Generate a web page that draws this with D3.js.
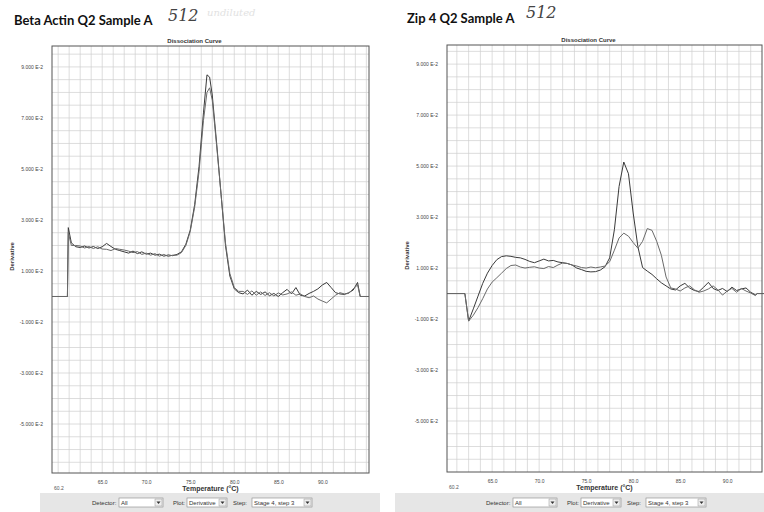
<!DOCTYPE html>
<meta charset="utf-8">
<script src="https://d3js.org/d3.v7.min.js"></script>
<style>
  body { margin: 0; background: #fff; }
  text { font-family: "Liberation Sans", Arial, sans-serif; fill: #333; }
</style>
<div id="chart"></div>
<script>
// tick labels shared by both panels
var yTickValues = [0.09, 0.07, 0.05, 0.03, 0.01, -0.01, -0.03, -0.05];
var yTickLabels = ["9.000 E-2", "7.000 E-2", "5.000 E-2", "3.000 E-2", "1.000 E-2", "-1.000 E-2", "-3.000 E-2", "-5.000 E-2"];
var xTickValues = [65, 70, 75, 80, 85, 90];
var xTickLabels = ["65.0", "70.0", "75.0", "80.0", "85.0", "90.0"];

// Beta Actin: temperature (C) and derivative of the two wells
var betaTemp = [59.3, 61.05, 61.15, 61.5, 62.0, 62.5, 63.0, 63.5, 64.0, 64.5, 65.0, 65.5, 66.0, 66.5, 67.0, 67.5,
  68.0, 68.5, 69.0, 69.5, 70.0, 70.5, 71.0, 71.5, 72.0, 72.5, 73.0, 73.5, 74.0, 74.5, 75.0, 75.5, 76.0, 76.5,
  76.9, 77.2, 77.5, 78.0, 78.5, 79.0, 79.5, 80.0, 80.5, 81.0, 81.5, 82.0, 82.5, 83.0, 83.5, 84.0, 84.5, 85.0,
  85.5, 86.0, 86.5, 87.0, 87.5, 88.0, 88.5, 89.0, 89.5, 90.0, 90.5, 91.0, 91.5, 92.0, 92.5, 93.0, 93.5, 94.0,
  94.3, 95.3];
var betaA = [0, 0, 0.0270, 0.0210, 0.0195, 0.0192, 0.0198, 0.0190, 0.0196, 0.0188, 0.0195, 0.0208, 0.0196, 0.0185, 0.0180, 0.0175,
  0.0170, 0.0178, 0.0168, 0.0175, 0.0166, 0.0170, 0.0162, 0.0166, 0.0158, 0.0163, 0.0160, 0.0165, 0.0175, 0.0205, 0.0260, 0.0360, 0.0510, 0.0720,
  0.0869, 0.0860, 0.0790, 0.0600, 0.0400, 0.0200, 0.0080, 0.0030, 0.0015, 0.0010, 0.0025, 0.0005, 0.0020, 0.0008, 0.0018, 0.0003, 0.0012, 0.0000,
  0.0015, 0.0028, 0.0010, 0.0035, 0.0005, 0.0002, 0.0012, 0.0020, 0.0030, 0.0045, 0.0055, 0.0035, 0.0015, 0.0010, 0.0008, 0.0015, 0.0025, 0.0055,
  0, 0];
var betaB = [0, 0, 0.0250, 0.0200, 0.0200, 0.0198, 0.0190, 0.0196, 0.0188, 0.0195, 0.0186, 0.0185, 0.0180, 0.0188, 0.0185, 0.0182,
  0.0178, 0.0172, 0.0176, 0.0165, 0.0170, 0.0162, 0.0168, 0.0158, 0.0165, 0.0157, 0.0162, 0.0162, 0.0172, 0.0200, 0.0255, 0.0350, 0.0490, 0.0690,
  0.0800, 0.0818, 0.0770, 0.0590, 0.0400, 0.0210, 0.0090, 0.0035, 0.0020, 0.0020, 0.0008, 0.0022, 0.0005, 0.0018, 0.0004, 0.0015, 0.0002, 0.0014,
  0.0006, 0.0010, 0.0018, 0.0005, 0.0010, 0.0000, -0.0005, 0.0002, -0.0010, -0.0018, -0.0025, -0.0010, 0.0005, 0.0015, 0.0010, 0.0012, 0.0030, 0.0045,
  0, 0];

// Zip 4
var zipTemp = [60.2, 62.1, 62.5, 63.0, 63.5, 64.0, 64.5, 65.0, 65.5, 66.0, 66.5, 67.0, 67.5, 68.0, 68.5, 69.0, 69.5,
  70.0, 70.5, 71.0, 71.5, 72.0, 72.5, 73.0, 73.5, 74.0, 74.5, 75.0, 75.5, 76.0, 76.5, 77.0, 77.5, 78.0, 78.5,
  79.0, 79.5, 80.0, 80.5, 81.0, 81.5, 82.0, 82.5, 83.0, 83.5, 84.0, 84.5, 85.0, 85.5, 86.0, 86.5, 87.0, 87.5,
  88.0, 88.5, 89.0, 89.5, 90.0, 90.5, 91.0, 91.5, 92.0, 92.5, 93.0, 93.2, 94.0];
var zipA = [0, 0, -0.0108, -0.0060, -0.0010, 0.0040, 0.0080, 0.0110, 0.0133, 0.0145, 0.0148, 0.0146, 0.0142, 0.0140, 0.0134, 0.0126, 0.0121,
  0.0128, 0.0135, 0.0128, 0.0130, 0.0124, 0.0121, 0.0118, 0.0112, 0.0100, 0.0094, 0.0087, 0.0085, 0.0086, 0.0092, 0.0105, 0.0140, 0.0250, 0.0420,
  0.0516, 0.0470, 0.0316, 0.0184, 0.0102, 0.0088, 0.0075, 0.0058, 0.0042, 0.0030, 0.0018, 0.0014, 0.0030, 0.0040, 0.0022, 0.0012, 0.0008, 0.0025,
  0.0044, 0.0020, 0.0012, 0.0020, 0.0008, 0.0025, 0.0012, 0.0018, 0.0022, 0.0005, -0.0005, 0, 0];
var zipB = [0, 0, -0.0108, -0.0085, -0.0055, -0.0020, 0.0018, 0.0045, 0.0062, 0.0080, 0.0098, 0.0110, 0.0112, 0.0104, 0.0100, 0.0103, 0.0105,
  0.0100, 0.0098, 0.0106, 0.0102, 0.0112, 0.0120, 0.0118, 0.0112, 0.0108, 0.0102, 0.0100, 0.0104, 0.0101, 0.0104, 0.0108, 0.0125, 0.0170, 0.0218,
  0.0237, 0.0225, 0.0200, 0.0178, 0.0205, 0.0255, 0.0248, 0.0205, 0.0150, 0.0065, 0.0022, 0.0018, 0.0010, 0.0022, 0.0030, 0.0015, 0.0005, 0.0010,
  0.0018, 0.0030, 0.0015, -0.0006, 0.0010, 0.0020, 0.0005, 0.0020, 0.0010, 0.0002, -0.0008, 0, 0];

var svg = d3.select("#chart").append("svg")
    .attr("width", 764)
    .attr("height", 512);

// each panel: frame box in pixels and the scale domain it covers
var panels = [
  { title: "Beta Actin Q2 Sample A", titleX: 14, titleY: 25, note: "512", noteX: 168, noteY: 21,
    left: 52, right: 369, top: 46, bottom: 473, xDomain: [59.3, 95.3], yDomain: [0.0982, -0.0692],
    temp: betaTemp, series: [betaA, betaB], bar: [40, 380] },
  { title: "Zip 4 Q2 Sample A", titleX: 407, titleY: 23, note: "512", noteX: 526, noteY: 18,
    left: 447, right: 762, top: 45, bottom: 472, xDomain: [60.2, 93.7], yDomain: [0.0975, -0.0700],
    temp: zipTemp, series: [zipA, zipB], bar: [395, 764] }
];

panels.forEach(function(p, i) {
  var g = svg.append("g");
  var x = d3.scaleLinear().domain(p.xDomain).range([p.left, p.right]);
  var y = d3.scaleLinear().domain(p.yDomain).range([p.top, p.bottom]);
  var w = p.right - p.left, h = p.bottom - p.top;

  // page title and handwriting
  g.append("text").attr("x", p.titleX).attr("y", p.titleY)
    .style("font-family", "Lato, 'Open Sans', sans-serif").style("font-weight", "bold")
    .style("font-size", "13px").style("fill", "#111").text(p.title);
  g.append("text").attr("x", p.noteX).attr("y", p.noteY)
    .style("font-family", "'DejaVu Serif', serif").style("font-style", "italic")
    .style("font-size", "16px").style("fill", "#444").text(p.note);
  if (i == 0) {
    g.append("text").attr("x", 207).attr("y", 16)
      .style("font-family", "'DejaVu Serif', serif").style("font-style", "italic")
      .style("font-size", "10px").style("fill", "#e2e2e2").text("undiluted");
  }

  // chart title
  g.append("text").attr("x", (p.left + p.right) / 2 - 16).attr("y", p.top - 3)
    .attr("text-anchor", "middle").style("font-size", "6px").style("font-weight", "bold")
    .text("Dissociation Curve");

  // grid
  var xGrid = d3.range(60, 96, 1.25).filter(function(v) { return v > p.xDomain[0] && v < p.xDomain[1]; });
  var yGrid = d3.range(-0.065, 0.1, 0.005);
  g.append("g").selectAll("line").data(xGrid).enter().append("line")
    .attr("x1", function(d) { return x(d); }).attr("x2", function(d) { return x(d); })
    .attr("y1", p.top).attr("y2", p.bottom)
    .attr("stroke", "#cfcfcf").attr("stroke-width", 0.7);
  g.append("g").selectAll("line").data(yGrid).enter().append("line")
    .attr("x1", p.left).attr("x2", p.right)
    .attr("y1", function(d) { return y(d); }).attr("y2", function(d) { return y(d); })
    .attr("stroke", "#cfcfcf").attr("stroke-width", 0.7);

  // axes (labels only, the frame is drawn separately)
  var yAxis = g.append("g").attr("transform", "translate(" + (p.left - 6) + ",0)")
    .call(d3.axisLeft(y).tickValues(yTickValues).tickSize(0)
      .tickFormat(function(d, k) { return yTickLabels[k]; }));
  var xAxis = g.append("g").attr("transform", "translate(0," + (p.bottom + 4) + ")")
    .call(d3.axisBottom(x).tickValues(xTickValues).tickSize(0)
      .tickFormat(function(d, k) { return xTickLabels[k]; }));
  [yAxis, xAxis].forEach(function(a) {
    a.select(".domain").remove();
    a.selectAll("text").style("font-size", "5px").style("fill", "#444")
      .style("font-family", "'Liberation Sans', Arial, sans-serif");
  });
  g.append("text").attr("x", p.left + 2).attr("y", p.bottom + 17)
    .style("font-size", "5px").style("fill", "#555").text("60.2");

  // lines
  var line = d3.line()
    .x(function(d) { return x(d[0]); })
    .y(function(d) { return y(d[1]); });
  var colors = ["#3a3a3a", "#6a6a6a"];
  p.series.forEach(function(s, k) {
    g.append("path")
      .datum(p.temp.map(function(t, j) { return [t, s[j]]; }))
      .attr("fill", "none")
      .attr("stroke", colors[k])
      .attr("stroke-width", 1)
      .attr("d", line);
  });

  // frame
  g.append("rect").attr("x", p.left).attr("y", p.top).attr("width", w).attr("height", h)
    .attr("fill", "none").attr("stroke", "#555").attr("stroke-width", 1);

  // axis titles
  g.append("text")
    .attr("transform", "translate(" + (p.left - 38) + "," + ((p.top + p.bottom) / 2 - 3) + ") rotate(-90)")
    .attr("text-anchor", "middle").style("font-size", "6px").style("font-weight", "bold")
    .text("Derivative");
  g.append("text").attr("x", (p.left + p.right) / 2).attr("y", p.bottom + 18)
    .attr("text-anchor", "middle").style("font-size", "7px").style("font-weight", "bold")
    .text("Temperature (°C)");

  // control strip under the chart
  var cy = 493;
  g.append("rect").attr("x", p.bar[0]).attr("y", cy).attr("width", p.bar[1] - p.bar[0]).attr("height", 19)
    .attr("fill", "#e6e6e6");
  var cx = i == 0 ? 92 : 486;
  var controls = [
    { label: "Detector:", lx: cx, bx: cx + 27, bw: 44, value: "All" },
    { label: "Plot:", lx: cx + 81, bx: cx + 95, bw: 40, value: "Derivative" },
    { label: "Step:", lx: cx + 141, bx: cx + 160, bw: 60, value: "Stage 4, step 3" }
  ];
  controls.forEach(function(c) {
    g.append("text").attr("x", c.lx).attr("y", cy + 12).style("font-size", "6px").text(c.label);
    g.append("rect").attr("x", c.bx).attr("y", cy + 5).attr("width", c.bw).attr("height", 9)
      .attr("fill", "#fff").attr("stroke", "#888").attr("stroke-width", 0.6);
    g.append("text").attr("x", c.bx + 2).attr("y", cy + 12).style("font-size", "6px").text(c.value);
    g.append("rect").attr("x", c.bx + c.bw - 8).attr("y", cy + 6).attr("width", 7).attr("height", 7)
      .attr("fill", "#eee").attr("stroke", "#999").attr("stroke-width", 0.5);
    g.append("path")
      .attr("d", "M" + (c.bx + c.bw - 6.5) + "," + (cy + 8.5) + "h4l-2,2.5z")
      .attr("fill", "#333");
  });
});
</script>
